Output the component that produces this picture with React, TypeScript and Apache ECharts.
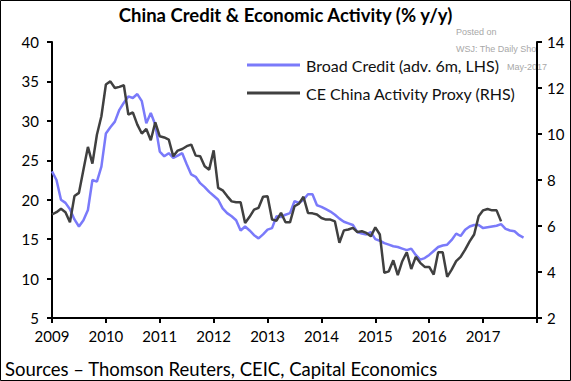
import React, { useEffect, useRef } from "react";
import * as echarts from "echarts";

// Month index 0 = Jan 2009
const startYear = 2009;
const xTickYears = [2009, 2010, 2011, 2012, 2013, 2014, 2015, 2016, 2017];
const leftTicks = [5, 10, 15, 20, 25, 30, 35, 40];
const rightTicks = [2, 4, 6, 8, 10, 12, 14];

const seriesNames = ["Broad Credit (adv. 6m, LHS)", "CE China Activity Proxy (RHS)"];

// Broad Credit (advanced 6m), % y/y, LHS, monthly from Jan 2009
const broadCredit = [
  23.6, 22.5, 20.0, 19.6, 18.8, 17.5, 16.6, 17.4, 18.7, 22.5, 22.3, 24.2,
  28.4, 29.2, 29.9, 31.4, 32.3, 33.1, 32.9, 33.4, 32.5, 29.7, 31.0, 29.5,
  26.1, 25.5, 25.9, 25.3, 25.6, 25.9, 24.5, 23.2, 22.9, 22.1, 21.6, 21.0,
  20.5, 20.0, 18.9, 18.3, 17.9, 17.4, 16.1, 16.6, 16.1, 15.5, 15.1, 15.6,
  16.2, 16.4, 17.9, 17.8, 18.1, 18.3, 19.8, 19.6, 20.0, 20.7, 20.7, 19.3,
  19.1, 18.8, 18.5, 18.1, 17.6, 17.2, 17.0, 16.8, 15.9, 15.7, 15.6, 15.9,
  15.0, 14.8, 14.5, 14.3, 14.1, 14.0, 13.8, 13.6, 13.8, 13.0, 12.4, 12.6,
  13.0, 13.5, 14.0, 14.2, 14.3, 14.9, 15.7, 15.4, 16.2, 16.6, 16.8, 16.8,
  16.4, 16.5, 16.6, 16.7, 16.9, 16.3, 16.1, 16.0, 15.5, 15.2
];

// CE China Activity Proxy, % y/y, RHS, monthly from Jan 2009
const activityProxy = [
  6.5, 6.6, 6.75, 6.6, 6.16, 7.3, 7.44, 8.45, 9.44, 8.71, 9.97, 10.77,
  12.15, 12.29, 12.0, 12.05, 12.12, 10.84, 10.94, 10.41, 10.02, 10.22, 9.73, 10.51,
  9.9, 9.85, 9.76, 9.03, 9.28, 9.35, 9.47, 9.54, 9.06, 9.03, 8.6, 8.45,
  9.29, 7.66, 7.55, 7.3, 7.07, 7.03, 7.03, 6.13, 6.4, 6.71, 6.79, 7.27,
  7.29, 6.28, 6.23, 6.57, 6.16, 6.16, 6.86, 6.97, 7.27, 6.57, 6.55, 6.5,
  6.35, 6.28, 6.28, 6.2, 5.27, 5.81, 5.85, 5.92, 5.74, 5.77, 5.7, 5.55,
  5.94, 5.63, 3.96, 4.03, 4.51, 3.86, 4.47, 4.86, 4.13, 4.66, 4.4, 4.22,
  4.22, 3.89, 4.86, 4.86, 3.79, 4.1, 4.47, 4.66, 4.97, 5.33, 5.63, 6.42,
  6.68, 6.74, 6.68, 6.68, 6.2
];

const FONT = "Lato";
const BLUE = "#7A7AFA";
const DARK = "#404040";

export default function App() {
  const ref = useRef<HTMLDivElement>(null);

  useEffect(() => {
    if (!ref.current) return;
    const chart = echarts.init(ref.current, null, { renderer: "svg" });
    const axisLine = { show: true, lineStyle: { color: "#000", width: 2 } };
    const axisTick = { show: true, length: 5, lineStyle: { color: "#000", width: 2 } };
    chart.setOption({
      animation: false,
      backgroundColor: "#fff",
      title: {
        text: "China Credit & Economic Activity (% y/y)",
        left: "center",
        top: 0,
        textStyle: { fontFamily: FONT, fontSize: 18.5, fontWeight: "bold", color: "#000" }
      },
      legend: {
        orient: "vertical",
        left: 247,
        top: 57,
        padding: 0,
        icon: "rect",
        itemWidth: 53,
        itemHeight: 3,
        itemGap: 12,
        data: seriesNames,
        textStyle: { fontFamily: FONT, fontSize: 16, color: "#111", padding: [0, 0, 0, 1] }
      },
      grid: { left: 52, right: 34, top: 42, bottom: 63, containLabel: false },
      xAxis: {
        type: "value",
        min: 0,
        max: 108,
        interval: 12,
        axisLine,
        axisTick,
        splitLine: { show: false },
        axisLabel: {
          fontFamily: FONT,
          fontSize: 15,
          color: "#000",
          margin: 10,
          formatter: (v: number) => {
            const y = startYear + v / 12;
            return xTickYears.includes(y) ? String(y) : "";
          }
        }
      },
      yAxis: [
        {
          type: "value",
          min: leftTicks[0],
          max: leftTicks[leftTicks.length - 1],
          interval: 5,
          position: "left",
          axisLine,
          axisTick,
          splitLine: { show: false },
          axisLabel: { fontFamily: FONT, fontSize: 15, color: "#000", margin: 13 }
        },
        {
          type: "value",
          min: rightTicks[0],
          max: rightTicks[rightTicks.length - 1],
          interval: 2,
          position: "right",
          axisLine,
          axisTick,
          splitLine: { show: false },
          axisLabel: { fontFamily: FONT, fontSize: 15, color: "#000", margin: 10 }
        }
      ],
      series: [
        {
          name: seriesNames[0],
          type: "line",
          yAxisIndex: 0,
          symbol: "none",
          smooth: false,
          lineStyle: { color: BLUE, width: 2.5 },
          itemStyle: { color: BLUE },
          data: broadCredit.map((v, i) => [i, v]),
          z: 2
        },
        {
          name: seriesNames[1],
          type: "line",
          yAxisIndex: 1,
          symbol: "none",
          smooth: false,
          lineStyle: { color: DARK, width: 2.5 },
          itemStyle: { color: DARK },
          data: activityProxy.map((v, i) => [i, v]),
          z: 3
        }
      ],
      graphic: [
        {
          type: "text",
          left: 456,
          top: 27,
          style: { text: "Posted on", fontFamily: "Arial", fontSize: 9, fill: "#a8a8a8" }
        },
        {
          type: "text",
          left: 456,
          top: 44,
          style: { text: "WSJ: The Daily Sho", fontFamily: "Arial", fontSize: 9, fill: "#a8a8a8" }
        },
        {
          type: "text",
          left: 507,
          top: 62,
          style: { text: "May-2017", fontFamily: "Arial", fontSize: 9, fill: "#a8a8a8" }
        },
        {
          type: "text",
          left: 5,
          top: 359,
          style: {
            text: "Sources \u2013 Thomson Reuters, CEIC, Capital Economics",
            fontFamily: FONT,
            fontSize: 18.5,
            fill: "#000"
          }
        },
        {
          type: "rect",
          shape: { x: 0.5, y: 0.5, width: 570, height: 380 },
          style: { fill: "none", stroke: "#000", lineWidth: 1 },
          silent: true
        }
      ]
    });
    return () => chart.dispose();
  }, []);

  return (
    <div
      ref={ref}
      style={{ position: "absolute", left: 0, top: 0, width: 571, height: 381 }}
    />
  );
}
